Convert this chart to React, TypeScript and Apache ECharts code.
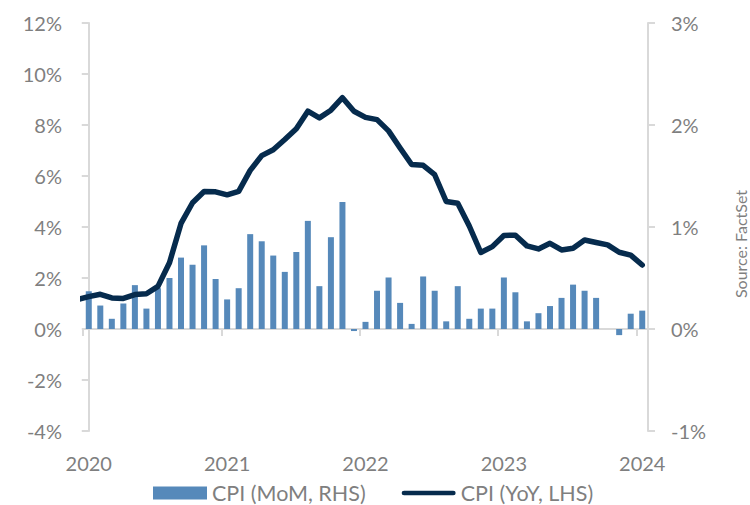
import React, { useEffect, useRef } from "react";
import * as echarts from "echarts";

// Monthly categories Jan 2020 .. Jan 2024
const months: string[] = [];
for (let y = 2020; y <= 2024; y++) {
  for (let m = 1; m <= 12; m++) {
    if (y === 2024 && m > 1) break;
    months.push(`${y}-${String(m).padStart(2, "0")}`);
  }
}

// CPI month-over-month (%), right axis
const cpiMoM = [
  0.37, 0.23, 0.1, 0.25, 0.43, 0.2, 0.4, 0.5, 0.7, 0.63, 0.82, 0.49,
  0.29, 0.4, 0.93, 0.86, 0.72, 0.56, 0.755, 1.06, 0.42, 0.9, 1.245, -0.02,
  0.07, 0.375, 0.505, 0.256, 0.05, 0.515, 0.375, 0.075, 0.42, 0.1, 0.2, 0.2,
  0.505, 0.36, 0.075, 0.155, 0.225, 0.305, 0.435, 0.375, 0.305, 0, -0.06, 0.15,
  0.18,
];

// CPI year-over-year (%), left axis; first value is Dec 2019 (clipped at the axis edge)
const cpiYoYMonthIndex = [
  -1, 0, 1, 2, 3, 4, 5, 6, 7, 8, 9, 10, 11, 12, 13, 14, 15, 16, 17, 18, 19, 20,
  21, 22, 23, 24, 25, 26, 27, 28, 29, 30, 31, 32, 33, 34, 35, 36, 37, 38, 39, 40,
  41, 42, 43, 44, 45, 46, 47, 48,
];
const cpiYoY = [
  1.15,
  1.27, 1.36, 1.22, 1.2, 1.35, 1.38, 1.67, 2.6, 4.14, 4.95, 5.39, 5.38,
  5.26, 5.4, 6.22, 6.8, 7.03, 7.43, 7.85, 8.54, 8.28, 8.58, 9.07, 8.54,
  8.3, 8.21, 7.77, 7.1, 6.45, 6.42, 6.05, 5.0, 4.93, 4.04, 3.0, 3.23,
  3.67, 3.68, 3.26, 3.14, 3.36, 3.1, 3.17, 3.49, 3.39, 3.3, 3.01, 2.9,
  2.51,
];

const leftTicks = { min: -4, max: 12, interval: 2 };
const rightTicks = { min: -1, max: 3, interval: 1 };

const seriesNames = ["CPI (MoM, RHS)", "CPI (YoY, LHS)"];
const sourceText = "Source: FactSet";

const FONT = "Lato, 'Open Sans', sans-serif";
const GRAY = "#7f7f7f";
const AXIS = "#d9d9d9";
const BAR = "#5689ba";
const LINE = "#062b4d";

const LINE_ICON =
  "path://M2.5,0 L54.5,0 A2.5,2.5 0 0 1 54.5,5 L2.5,5 A2.5,2.5 0 0 1 2.5,0 Z";

export default function App() {
  const ref = useRef<HTMLDivElement>(null);
  useEffect(() => {
    document.body.style.margin = "0";
    const chart = echarts.init(ref.current!, null, { renderer: "svg" });
    const lineData = cpiYoYMonthIndex.map((x, i) => [x, cpiYoY[i]]);
    chart.setOption({
      animation: false,
      backgroundColor: "#ffffff",
      textStyle: { fontFamily: FONT },
      grid: { left: 83, right: 102, top: 23, bottom: 74 },
      legend: {
        data: [
          { name: seriesNames[0], icon: "rect" },
          { name: seriesNames[1], icon: LINE_ICON },
        ],
        left: 148,
        top: 477,
        padding: 5,
        itemWidth: 54,
        itemHeight: 13,
        itemGap: 36,
        textStyle: { color: GRAY, fontSize: 21.5, fontFamily: FONT },
      },
      xAxis: [
        {
          type: "category",
          data: months,
          boundaryGap: true,
          axisLine: { onZero: true, lineStyle: { color: AXIS, width: 2 } },
          axisTick: {
            show: true,
            interval: 11,
            length: 7,
            lineStyle: { color: AXIS, width: 2 },
          },
          axisLabel: { show: false },
          splitLine: { show: false },
        },
        {
          type: "category",
          data: months,
          boundaryGap: true,
          position: "bottom",
          axisLine: { show: false, onZero: false },
          axisTick: { show: false },
          axisLabel: {
            interval: 11,
            margin: 22,
            color: GRAY,
            fontSize: 20,
            fontFamily: FONT,
            formatter: (v: string) => v.slice(0, 4),
          },
          splitLine: { show: false },
        },
        {
          type: "value",
          min: -0.5,
          max: 48.5,
          show: false,
          splitLine: { show: false },
        },
      ],
      yAxis: [
        {
          type: "value",
          position: "left",
          min: leftTicks.min,
          max: leftTicks.max,
          interval: leftTicks.interval,
          axisLine: { show: true, lineStyle: { color: AXIS, width: 2 } },
          axisTick: { show: true, length: 7, lineStyle: { color: AXIS, width: 2 } },
          axisLabel: {
            color: GRAY,
            fontSize: 20,
            margin: 21,
            fontFamily: FONT,
            formatter: "{value}%",
          },
          splitLine: { show: false },
        },
        {
          type: "value",
          position: "right",
          min: rightTicks.min,
          max: rightTicks.max,
          interval: rightTicks.interval,
          axisLine: { show: true, lineStyle: { color: AXIS, width: 2 } },
          axisTick: { show: true, length: 7, lineStyle: { color: AXIS, width: 2 } },
          axisLabel: {
            color: GRAY,
            fontSize: 20,
            margin: 23,
            fontFamily: FONT,
            formatter: "{value}%",
          },
          splitLine: { show: false },
        },
      ],
      series: [
        {
          name: seriesNames[0],
          type: "bar",
          xAxisIndex: 0,
          yAxisIndex: 1,
          data: cpiMoM,
          barWidth: 6,
          itemStyle: { color: BAR },
        },
        {
          name: seriesNames[1],
          type: "line",
          xAxisIndex: 2,
          yAxisIndex: 0,
          data: lineData,
          symbol: "none",
          clip: true,
          lineStyle: { color: LINE, width: 5.5, join: "round", cap: "round" },
          itemStyle: { color: LINE },
        },
      ],
      graphic: [
        {
          type: "text",
          x: 740,
          y: 244,
          rotation: Math.PI / 2,
          style: {
            text: sourceText,
            fill: GRAY,
            fontSize: 16,
            fontFamily: FONT,
            textAlign: "center",
            textVerticalAlign: "middle",
          },
        },
      ],
    });
    return () => chart.dispose();
  }, []);
  return <div ref={ref} style={{ width: 750, height: 505 }} />;
}
